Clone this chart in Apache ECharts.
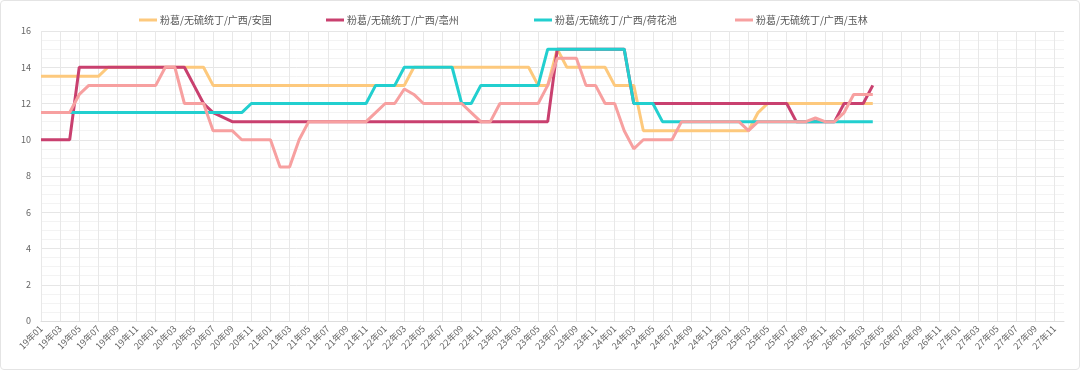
<!DOCTYPE html>
<html>
<head>
<meta charset="utf-8">
<script src="https://cdn.jsdelivr.net/npm/echarts@6/dist/echarts.min.js"></script>
<style>
html,body{margin:0;padding:0;background:#fff;}
#chart{position:absolute;left:0;top:0;width:1080px;height:374px;}
#frame{position:absolute;left:0;top:0;width:1080px;height:370px;box-sizing:border-box;border:1px solid #e4e4e4;border-radius:4px;pointer-events:none;}
</style>
</head>
<body>
<div id="chart"></div>
<div id="frame"></div>
<script>
// categories: 19年01 .. 27年12
const years = ['19','20','21','22','23','24','25','26','27'];
const months = ['01','02','03','04','05','06','07','08','09','10','11','12'];
const categories = [];
years.forEach(y => months.forEach(m => categories.push(y + '年' + m)));

const seriesNames = ['粉葛/无硫统丁/广西/安国','粉葛/无硫统丁/广西/亳州','粉葛/无硫统丁/广西/荷花池','粉葛/无硫统丁/广西/玉林'];

const anguo = [
  13.5,13.5,13.5,13.5,13.5,13.5,13.5,
  14,14,14,14,14,14,14,14,14,14,14,
  13,13,13,13,13,13,13,13,13,13,13,13,13,13,13,13,13,13,13,13,13,
  14,14,14,14,14,14,14,14,14,14,14,14,14,
  13,13,
  15,
  14,14,14,14,14,
  13,13,13,
  10.5,10.5,10.5,10.5,10.5,10.5,10.5,10.5,10.5,10.5,10.5,10.5,
  11.5,
  12,12,12,12,12,12,12,12,12,12,12,12
];
const bozhou = [
  10,10,10,10,
  14,14,14,14,14,14,14,14,14,14,14,14,
  13,12,11.5,11.25,
  11,11,11,11,11,11,11,11,11,11,11,11,11,11,11,11,11,11,11,11,11,11,11,11,11,11,11,11,11,11,11,11,11,11,
  15,15,15,15,15,15,15,15,
  12,12,12,12,12,12,12,12,12,12,12,12,12,12,12,12,12,
  11,11,11,11,11,
  12,12,12,
  13
];
const hehuachi = [
  11.5,11.5,11.5,11.5,11.5,11.5,11.5,11.5,11.5,11.5,11.5,11.5,11.5,11.5,11.5,11.5,11.5,11.5,11.5,11.5,11.5,11.5,
  12,12,12,12,12,12,12,12,12,12,12,12,12,
  13,13,13,
  14,14,14,14,14,14,
  12,12,
  13,13,13,13,13,13,13,
  15,15,15,15,15,15,15,15,15,
  12,12,12,
  11,11,11,11,11,11,11,11,11,11,11,11,11,11,11,11,11,11,11,11,11,11,11
];
const yulin = [
  11.5,11.5,11.5,11.5,
  12.5,
  13,13,13,13,13,13,13,13,
  14,14,
  12,12,12,
  10.5,10.5,10.5,
  10,10,10,10,
  8.5,8.5,
  10,
  11,11,11,11,11,11,11,
  11.5,
  12,12,
  12.8,12.5,
  12,12,12,12,12,
  11.5,
  11,11,
  12,12,12,12,12,
  13,
  14.5,14.5,14.5,
  13,13,
  12,12,
  10.5,9.5,
  10,10,10,10,
  11,11,11,11,11,11,11,
  10.5,
  11,11,11,11,11,11,
  11.2,
  11,11,
  11.5,
  12.5,12.5,12.5
];
const yTicks = {min: 0, max: 16, interval: 2};
const colors = ['#fdc97d','#c9406f','#22cfcf','#f7a0a0'];

const chart = echarts.init(document.getElementById('chart'));
const font = '"Noto Sans CJK SC", "Noto Sans", sans-serif';
const legendLefts = [134, 321, 529, 730];
chart.setOption({
  animation: false,
  color: colors,
  textStyle: {fontFamily: font},
  legend: seriesNames.map((n, i) => ({
    top: 10,
    left: legendLefts[i],
    itemWidth: 18,
    itemHeight: 3,
    itemGap: 0,
    icon: 'rect',
    textStyle: {fontSize: 10, color: '#555', fontFamily: font, padding: [0, 0, 0, -2]},
    data: [n]
  })),
  grid: {left: 41, right: 16, top: 31, bottom: 53, containLabel: false},
  xAxis: {
    type: 'category',
    data: categories,
    boundaryGap: false,
    axisLine: {show: true, lineStyle: {color: '#ddd'}},
    axisTick: {show: false},
    axisLabel: {interval: 1, rotate: 45, fontSize: 9, color: '#666', margin: 6, fontFamily: font},
    splitLine: {show: true, interval: 1, lineStyle: {color: '#e8e8e8', width: 1}}
  },
  yAxis: {
    type: 'value',
    min: yTicks.min, max: yTicks.max, interval: yTicks.interval,
    axisLine: {show: false},
    axisTick: {show: false},
    axisLabel: {fontSize: 9, color: '#666', margin: 10, fontFamily: font},
    splitLine: {show: true, lineStyle: {color: '#e6e6e6'}},
    minorTick: {show: false, splitNumber: 4},
    minorSplitLine: {show: true, lineStyle: {color: '#f3f3f3'}}
  },
  series: [anguo, bozhou, hehuachi, yulin].map((d, i) => ({
    name: seriesNames[i],
    type: 'line',
    data: d,
    showSymbol: false,
    symbol: 'none',
    lineStyle: {width: 3, color: colors[i]},
    itemStyle: {color: colors[i]}
  }))
});
</script>
</body>
</html>
